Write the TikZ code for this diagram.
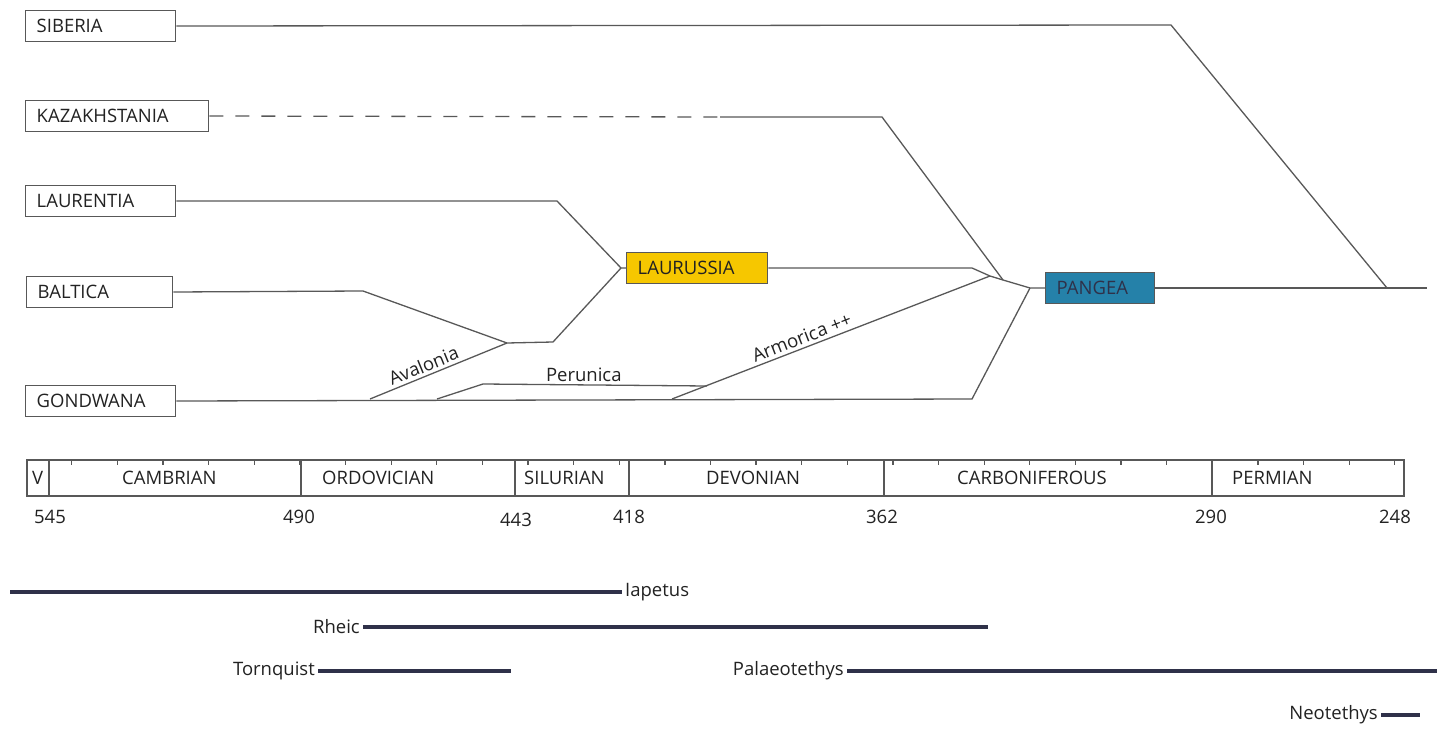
\documentclass[tikz,border=0pt]{standalone}
\usepackage{fontspec}
\setmainfont{Open Sans}
\usetikzlibrary{positioning}
\definecolor{laurussiayellow}{HTML}{F6C700}
\definecolor{pangeablue}{HTML}{2581A9}
\definecolor{oceannavy}{HTML}{2F3149}
\definecolor{linegray}{HTML}{585858}
\definecolor{textdark}{HTML}{222222}
\begin{document}
\begin{tikzpicture}[x=1pt,y=-1pt]
    % Define Styles
        \tikzstyle{block} = [rectangle, draw=linegray, fill=white, anchor=west, align=left, text width=128pt, inner xsep=11pt, minimum height=31pt, line width=1.4pt, text=textdark, font=\fontsize{18.5}{20}\selectfont]
        \tikzstyle{line} = [draw=linegray, line width=1.3pt]
        \tikzstyle{dashline} = [line, dash pattern=on 14pt off 12pt]
        \tikzstyle{period} = [draw=linegray, line width=1.3pt]
        \tikzstyle{tag} = [text=textdark, inner sep=3pt, font=\fontsize{18.5}{20}\selectfont]
        \tikzstyle{ocean} = [draw=oceannavy, line width=3.8pt]
        \useasboundingbox (0,0) rectangle (1439,730);
    % Place nodes
        \node [block] (siberia) at (25,26) {SIBERIA};
        \node [block, text width=161pt] (kazakh) at (25,116) {KAZAKHSTANIA};
        \node [block] (laurentia) at (25,201) {LAURENTIA};
        \node [block, text width=124pt] (baltica) at (26,292) {BALTICA};
        \node [block] (gondwana) at (25,401) {GONDWANA};
        \node [block, fill=laurussiayellow, text width=119pt] (laurussia) at (626,268) {LAURUSSIA};
        \node [block, fill=pangeablue, text width=87pt, text=oceannavy] (pangea) at (1045,288) {PANGEA};
    % Bends and junctions
        \coordinate (sibbend) at (1171,25);
        \coordinate (sibjoin) at (1387,288);
        \coordinate (pangend) at (1427,288);
        \coordinate (kazdash) at (720,117);
        \coordinate (kazbend) at (882,117);
        \coordinate (laubend) at (557,201);
        \coordinate (lausjoin) at (621,268);
        \coordinate (balbend) at (363,291);
        \coordinate (avajoin) at (507,343);
        \coordinate (avabend) at (553,342);
        \coordinate (avasplit) at (370,399);
        \coordinate (persplit) at (437,399);
        \coordinate (perbend) at (483,384);
        \coordinate (perjoin) at (707,386);
        \coordinate (armsplit) at (672,399);
        \coordinate (gonbend) at (972,399);
        \coordinate (lausbend) at (972,268);
        \coordinate (joinone) at (990,276);
        \coordinate (jointwo) at (1003,280);
        \coordinate (jointhree) at (1030,288);
    % Edges
        \draw[line] (siberia.east) -- (sibbend) -- (sibjoin);
        \draw[line] (pangea.east) -- (sibjoin) -- (pangend);
        \draw[dashline] (kazakh.east) -- (kazdash);
        \draw[line] (kazdash) -- (kazbend) -- (jointwo);
        \draw[line] (laurentia.east) -- (laubend) -- (lausjoin) -- (laurussia.west);
        \draw[line] (baltica.east) -- (balbend) -- (avajoin) -- (avabend) -- (lausjoin);
        \draw[line] (gondwana.east) -- (gonbend) -- (jointhree);
        \draw[line] (avasplit) -- (avajoin) node [tag, pos=0.42, above, sloped] {Avalonia};
        \draw[line] (persplit) -- (perbend) -- (perjoin) node [tag, pos=0.45, above] {Perunica};
        \draw[line] (armsplit) -- (joinone) node [tag, pos=0.42, above, sloped] {Armorica ++};
        \draw[line] (laurussia.east) -- (lausbend) -- (joinone) -- (jointwo) -- (jointhree) -- (pangea.west);
    % Timescale
        \draw[period] (27,460) rectangle (1404,496);
        \foreach \b in {49,301,515,629,884,1212}
            \draw[period] (\b,460) -- (\b,496);
        \foreach \t in {540,530,...,250}
            \draw[period] ({49+(545-\t)*4.562},460) -- ++(0,5);
        \node [tag, anchor=west] (vendian) at (29,478) {V};
        \node [tag, anchor=west] (cambrian) at (119,478) {CAMBRIAN};
        \node [tag, anchor=west] (ordovician) at (319,478) {ORDOVICIAN};
        \node [tag, anchor=west] (silurian) at (521,478) {SILURIAN};
        \node [tag, anchor=west] (devonian) at (703,478) {DEVONIAN};
        \node [tag, anchor=west] (carboniferous) at (954,478) {CARBONIFEROUS};
        \node [tag, anchor=west] (permian) at (1229,478) {PERMIAN};
        \node [tag] (age545) at (50,517) {545};
        \node [tag] (age490) at (299,517) {490};
        \node [tag] (age443) at (516,520) {443};
        \node [tag] (age418) at (629,517) {418};
        \node [tag] (age362) at (882,517) {362};
        \node [tag] (age290) at (1211,517) {290};
        \node [tag] (age248) at (1395,517) {248};
    % Oceans
        \node [tag, anchor=west] (iapetus) at (622,592) {Iapetus};
        \node [tag, anchor=east] (rheic) at (363,627) {Rheic};
        \node [tag, anchor=east] (tornquist) at (318,671) {Tornquist};
        \node [tag, anchor=east] (palaeotethys) at (847,671) {Palaeotethys};
        \node [tag, anchor=east] (neotethys) at (1381,715) {Neotethys};
        \coordinate (iapstart) at (10,592);
        \coordinate (rheicend) at (988,627);
        \coordinate (tornend) at (511,671);
        \coordinate (palaeoend) at (1437,671);
        \coordinate (neoend) at (1420,715);
        \draw[ocean] (iapstart) -- (iapetus.west);
        \draw[ocean] (rheic.east) -- (rheicend);
        \draw[ocean] (tornquist.east) -- (tornend);
        \draw[ocean] (palaeotethys.east) -- (palaeoend);
        \draw[ocean] (neotethys.east) -- (neoend);
    \end{tikzpicture}
\end{document}
